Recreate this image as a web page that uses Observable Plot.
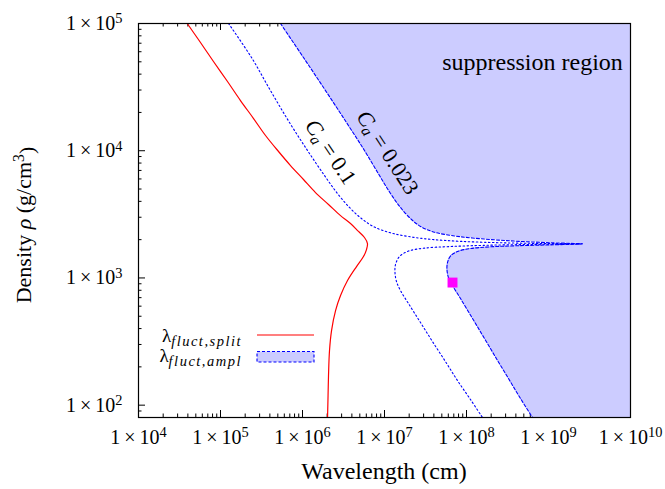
<!DOCTYPE html>
<html><head><meta charset="utf-8">
<script src="https://cdn.jsdelivr.net/npm/d3@7"></script>
<script src="https://cdn.jsdelivr.net/npm/@observablehq/plot@0.6"></script>
<style>
html,body{margin:0;padding:0;background:#fff}
#chart svg{display:block}
</style></head><body><div id="chart"></div>
<script>
// ---- data (wavelength in cm, density in g/cm^3) ----
const splitWavelength = [3.93e4, 5.70e4, 8.21e4, 1.217e5, 1.753e5, 2.53e5, 3.54e5, 5.10e5, 7.14e5, 1.028e6, 1.44e6, 2.076e6, 2.91e6, 3.85e6, 4.82e6, 5.70e6, 6.20e6, 6.03e6, 5.54e6, 4.56e6, 3.54e6, 2.91e6, 2.53e6, 2.26e6, 2.135e6, 2.076e6, 2.05e6, 2.02e6];
const splitDensity    = [1e5, 7.09e4, 5.03e4, 3.50e4, 2.48e4, 1.79e4, 1.317e4, 9.86e3, 7.65e3, 5.94e3, 4.69e3, 3.78e3, 3.09e3, 2.68e3, 2.32e3, 2.08e3, 1.864e3, 1.672e3, 1.473e3, 1.229e3, 954, 727, 554, 386, 269, 171, 119, 80];

const ca01Wavelength = [1.252e5, 2.39e5, 4.07e5, 6.94e5, 1.151e6, 1.855e6, 2.67e6, 3.74e6, 5.24e6, 7.55e6, 1.184e7, 1.962e7, 3.64e7, 8.45e7, 2.60e8, 7.99e8, 2.60e9,
                        6.03e8, 1.612e8, 6.38e7, 3.16e7, 1.962e7, 1.524e7, 1.362e7, 1.343e7, 1.401e7, 1.567e7, 1.962e7, 2.75e7, 3.85e7, 5.54e7, 7.77e7, 1.119e8, 1.567e8];
const ca01Density    = [1e5, 5.40e4, 2.97e4, 1.666e4, 1.004e4, 6.38e3, 4.61e3, 3.58e3, 2.93e3, 2.51e3, 2.263e3, 2.116e3, 2.012e3, 1.94e3, 1.891e3, 1.867e3, 1.854e3,
                        1.834e3, 1.804e3, 1.766e3, 1.718e3, 1.627e3, 1.473e3, 1.274e3, 1.103e3, 937, 796, 629, 446, 316, 220, 156, 110.7, 80];

const ca023Wavelength = [5.39e5, 1.028e6, 1.908e6, 3.44e6, 5.70e6, 8.69e6, 1.184e7, 1.567e7, 2.135e7, 2.75e7, 3.96e7, 6.38e7, 1.184e8, 3.44e8, 1.058e9, 2.60e9,
                         1.058e9, 4.07e8, 1.962e8, 1.119e8, 7.77e7, 6.38e7, 5.87e7, 5.78e7, 6.03e7, 6.75e7, 8.45e7, 1.184e8, 1.658e8, 2.32e8, 3.25e8, 4.56e8, 6.38e8];
const ca023Density    = [1e5, 5.40e4, 2.97e4, 1.666e4, 1.004e4, 6.38e3, 4.61e3, 3.58e3, 2.88e3, 2.54e3, 2.30e3, 2.16e3, 2.06e3, 1.957e3, 1.891e3, 1.854e3,
                         1.820e3, 1.791e3, 1.756e3, 1.703e3, 1.613e3, 1.487e3, 1.322e3, 1.164e3, 1.007e3, 872, 689, 480, 334, 232, 162, 112.7, 80];

const markerWavelength = [6.75e7];
const markerDensity    = [920];

const xMajor = [1e4, 1e5, 1e6, 1e7, 1e8, 1e9, 1e10];
const yMajor = [1e2, 1e3, 1e4, 1e5];
const xMinor = [];
for (let e = 4; e < 10; e++) for (let k = 2; k <= 9; k++) xMinor.push(k * 10 ** e);
const yMinor = [];
for (let e = 1; e < 5; e++) for (let k = 2; k <= 9; k++) { const v = k * 10 ** e; if (v > 80) yMinor.push(v); }

// ---- tables ----
const split = splitWavelength.map((x, i) => ({x, y: splitDensity[i]}));
const ca01 = ca01Wavelength.map((x, i) => ({x, y: ca01Density[i]}));
const ca023 = ca023Wavelength.map((x, i) => ({x, y: ca023Density[i]}));
const marker = markerWavelength.map((x, i) => ({x, y: markerDensity[i]}));

const W = 665, H = 489, mL = 138, mR = 35, mT = 23, mB = 72;
const iW = W - mL - mR, iH = H - mT - mB;
const fillColor = "#ccccff";
const FONT = "Liberation Serif";
const expLabel = d => "1\u2009×\u200910^" + Math.round(Math.log10(d));

const chart = Plot.plot({
  width: W, height: H,
  marginLeft: mL, marginRight: mR, marginTop: mT, marginBottom: mB,
  style: {fontFamily: FONT, fontSize: "20px", background: "#fff", color: "#000"},
  x: {type: "log", domain: [1e4, 1e10]},
  y: {type: "log", domain: [80, 1e5]},
  marks: [
    // inward ticks (drawn first so the fill covers them)
    Plot.tickX(xMajor, {x: d => d, insetTop: iH - 7, stroke: "#000", strokeWidth: 1}),
    Plot.tickX(xMinor, {x: d => d, insetTop: iH - 3.5, stroke: "#000", strokeWidth: 1}),
    Plot.tickX(xMajor, {x: d => d, insetBottom: iH - 7, stroke: "#000", strokeWidth: 1}),
    Plot.tickX(xMinor, {x: d => d, insetBottom: iH - 3.5, stroke: "#000", strokeWidth: 1}),
    Plot.tickY(yMajor, {y: d => d, insetRight: iW - 7, stroke: "#000", strokeWidth: 1}),
    Plot.tickY(yMinor, {y: d => d, insetRight: iW - 3.5, stroke: "#000", strokeWidth: 1}),
    // suppression region
    Plot.areaX(ca023, {y: "y", x1: "x", x2: () => 1e10, fill: fillColor, curve: "catmull-rom", clip: true}),
    Plot.line(ca023, {x: "x", y: "y", stroke: "#0000ff", strokeWidth: 1.1, strokeDasharray: "3,2", curve: "catmull-rom", clip: true}),
    Plot.line(ca01, {x: "x", y: "y", stroke: "#0000ff", strokeWidth: 1.1, strokeDasharray: "1.5,2.5", curve: "catmull-rom", clip: true}),
    Plot.line(split, {x: "x", y: "y", stroke: "#ff0000", strokeWidth: 1.2, curve: "catmull-rom", clip: true}),
    Plot.dot(marker, {x: "x", y: "y", symbol: "square", r: 5.6, fill: "#ff00ff", stroke: "none"}),
    Plot.frame({stroke: "#000", strokeWidth: 1.2}),
    Plot.text(["C_a = 0.1"], {x: 2.2e6, y: 9.8e3, text: d => d, rotate: 56, fontSize: 22, fill: "#000"}),
    Plot.text(["C_a = 0.023"], {x: 1.09e7, y: 9.68e3, text: d => d, rotate: 57, fontSize: 22, fill: "#000"}),
    Plot.text(["suppression region"], {x: 6.38e8, y: 4.93e4, text: d => d, fontSize: 24, fill: "#000"}),
    Plot.axisX({ticks: xMajor, tickSize: 0, tickPadding: 12, label: null, tickFormat: expLabel}),
    Plot.axisY({ticks: yMajor, tickSize: 0, tickPadding: 16, label: null, tickFormat: expLabel})
  ]
});
document.getElementById("chart").appendChild(chart);

const svg = d3.select(chart);
// superscript tick labels and subscripted annotation labels
svg.selectAll("text").each(function () {
  const t = d3.select(this);
  const s = this.textContent;
  let m = s.match(/^(1\u2009×\u200910)\^(\d+)$/);
  if (m) {
    t.text(null);
    t.append("tspan").text(m[1]);
    t.append("tspan").attr("dy", "-0.45em").attr("font-size", "0.72em").text(m[2]);
    return;
  }
  m = s.match(/^C_a( = .*)$/);
  if (m) {
    t.text(null);
    t.append("tspan").attr("font-style", "italic").text("C");
    t.append("tspan").attr("font-style", "italic").attr("font-size", "0.7em").attr("dy", "0.25em").text("a");
    t.append("tspan").attr("dy", "-0.175em").text(m[1]);
  }
});

// axis titles
svg.append("text").attr("x", mL + iW / 2).attr("y", 479).attr("text-anchor", "middle")
  .attr("font-size", 24).text("Wavelength (cm)");
const yl = svg.append("text").attr("transform", "translate(31,225) rotate(-90)").attr("text-anchor", "middle").attr("font-size", 22);
yl.append("tspan").text("Density ");
yl.append("tspan").attr("font-style", "italic").text("ρ");
yl.append("tspan").text(" (g/cm");
yl.append("tspan").attr("dy", "-0.45em").attr("font-size", "0.72em").text("3");
yl.append("tspan").attr("dy", "0.45em").text(")");

// legend
const lg = svg.append("g").attr("font-size", 19);
const l1 = lg.append("text").attr("x", 242).attr("y", 342).attr("text-anchor", "end");
l1.append("tspan").text("λ");
l1.append("tspan").attr("font-style", "italic").attr("font-size", 14.5).attr("letter-spacing", 1.5).attr("dy", 4).text("fluct,split");
lg.append("line").attr("x1", 257).attr("x2", 314).attr("y1", 335).attr("y2", 335).attr("stroke", "#ff0000").attr("stroke-width", 1.2);
const l2 = lg.append("text").attr("x", 242).attr("y", 362).attr("text-anchor", "end");
l2.append("tspan").text("λ");
l2.append("tspan").attr("font-style", "italic").attr("font-size", 14.5).attr("letter-spacing", 1.5).attr("dy", 4).text("fluct,ampl");
lg.append("rect").attr("x", 257).attr("y", 351.5).attr("width", 57).attr("height", 10.5)
  .attr("fill", fillColor).attr("stroke", "#0000ff").attr("stroke-width", 1.1).attr("stroke-dasharray", "3,2");
</script>
</body></html>
